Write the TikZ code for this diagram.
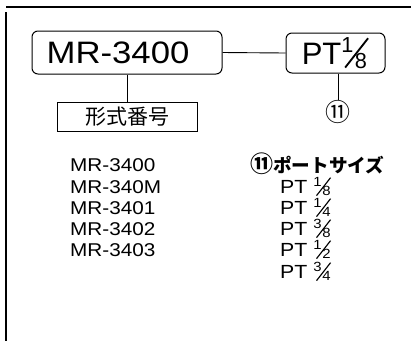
\documentclass[tikz,border=0pt]{standalone}
\usepackage{fontspec}
\usepackage{graphicx}
\setmainfont{Liberation Sans}
\newfontfamily\widesans[FakeStretch=1.12]{Liberation Sans}
\newfontfamily\jp{Noto Sans CJK JP}
\newcommand\fr[2]{\makebox[0.9em][l]{\raisebox{.37em}{\scalebox{.7}{#1}}\kern-.29em\raisebox{-.13em}{\rotatebox{52}{\rule{1.2em}{.06em}}}\kern-.45em\raisebox{-.13em}{\scalebox{.7}{#2}}}}
\begin{document}
\begin{tikzpicture}[x=1pt,y=-1pt,
  rbox/.style={draw, rounded corners=6pt, line width=1pt, inner sep=0pt},
  sqbox/.style={draw, line width=1pt, inner sep=0pt},
  lbl/.style={inner sep=0pt, anchor=base west, font=\widesans\fontsize{18.5}{18.5}\selectfont},
  ptl/.style={inner sep=0pt, anchor=base west, font=\widesans\fontsize{19}{19}\selectfont},
  conn/.style={line width=0.9pt}]
\useasboundingbox (0,0) rectangle (411,341);
\draw[line width=2pt] (6,7) -- (411,7);
\draw[line width=1.5pt] (6,12) -- (6,341);
% top boxes
\node[rbox, minimum width=190pt, minimum height=43pt] (mr) at (127,52.5) {};
\node[inner sep=0pt, font=\widesans\fontsize{31}{31}\selectfont] (mrt) at (118,53) {MR-3400};
\node[rbox, minimum width=99pt, minimum height=40pt, font=\fontsize{31}{31}\selectfont] (pt) at (335.5,53) {PT\fr18};
\node[sqbox, minimum width=140pt, minimum height=29pt, font=\jp\fontsize{21}{21}\selectfont] (kb) at (127,116.5) {形式番号};
\node[inner sep=0pt, font=\jp\fontsize{25}{25}\selectfont] (c11) at (338,112) {⑪};
\draw[conn] (mr.east) -- (pt.west);
\draw[conn] (mr.south) -- (kb.north);
\draw[conn] (pt.south -| c11.north) -- (c11.north);
% lists
\node[lbl] (l1) at (70,171.5) {MR-3400};
\node[lbl] (l2) at (70,193.5) {MR-340M};
\node[lbl] (l3) at (70,214.5) {MR-3401};
\node[lbl] (l4) at (70,235.5) {MR-3402};
\node[lbl] (l5) at (70,256.5) {MR-3403};
\node[inner sep=0pt, anchor=base west, font=\jp\bfseries\fontsize{18.6}{18.6}\selectfont] (hd) at (250,172) {{\fontsize{23}{23}\selectfont ⑪}ポートサイズ};
\node[ptl] (p1) at (280,193.5) {PT\ \fr18};
\node[ptl] (p2) at (280,214.5) {PT\ \fr14};
\node[ptl] (p3) at (280,235.5) {PT\ \fr38};
\node[ptl] (p4) at (280,256.5) {PT\ \fr12};
\node[ptl] (p5) at (280,278.5) {PT\ \fr34};
\end{tikzpicture}
\end{document}
